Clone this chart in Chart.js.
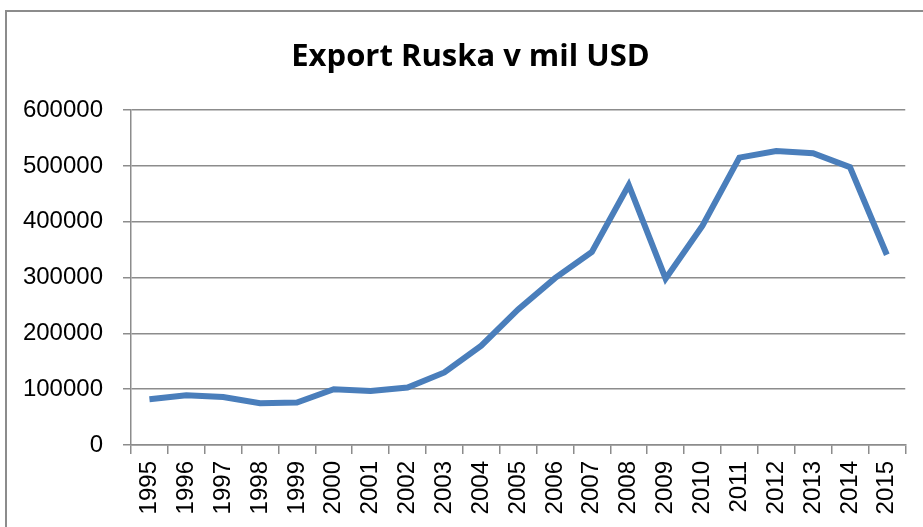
<!DOCTYPE html>
<html>
<head>
<meta charset="utf-8">
<script src="https://cdn.jsdelivr.net/npm/chart.js@4"></script>
<style>
  html, body { margin: 0; padding: 0; background: #fff; overflow: hidden; }
  #wrap { position: relative; width: 923px; height: 527px; }
  #frame { position: absolute; left: 5px; top: 10px; width: 940px; height: 540px; border: 2px solid #8c8c8c; box-sizing: border-box; }
  canvas { position: absolute; left: 0; top: 0; }
</style>
</head>
<body>
<div id="wrap">
  <div id="frame"></div>
  <canvas id="chart" width="923" height="527"></canvas>
</div>
<script>
// Export of Russia, million USD
const years = ['1995', '1996', '1997', '1998', '1999', '2000', '2001', '2002', '2003', '2004', '2005',
  '2006', '2007', '2008', '2009', '2010', '2011', '2012', '2013', '2014', '2015'];
const exportValues = [82000, 89000, 86000, 75000, 76000, 100000, 97000, 103000, 130000, 178000, 243000,
  299000, 346000, 466000, 298000, 393000, 515000, 527000, 523000, 498000, 341000];
const yTicks = [0, 100000, 200000, 300000, 400000, 500000, 600000];

const axisGrey = '#8c8c8c';

// the original title sits a bit right of the canvas centre
const titleShift = {
  id: 'titleShift',
  afterLayout(chart) {
    if (chart.titleBlock) chart.titleBlock.left = 34;
  }
};

new Chart(document.getElementById('chart').getContext('2d'), {
  type: 'line',
  data: {
    labels: years,
    datasets: [{
      label: 'Export',
      data: exportValues,
      borderColor: '#4a7ebb',
      borderWidth: 6,
      pointRadius: 0,
      tension: 0,
      fill: false
    }]
  },
  options: {
    responsive: false,
    animation: false,
    layout: { padding: { left: 0, right: 16, top: 0, bottom: 0 } },
    plugins: {
      legend: { display: false },
      tooltip: { enabled: false },
      title: {
        display: true,
        text: 'Export Ruska v mil USD',
        color: '#000',
        font: { family: 'Open Sans', size: 31, weight: 'bold', lineHeight: 1.2 },
        padding: { top: 39, bottom: 34 }
      }
    },
    scales: {
      x: {
        offset: true,
        grid: { display: true, drawOnChartArea: false, drawTicks: true, offset: true, tickLength: 9, color: axisGrey, lineWidth: 1.5 },
        border: { display: true, color: axisGrey, width: 1.5 },
        ticks: {
          color: '#000',
          font: { family: 'Liberation Sans', size: 24 },
          minRotation: 90,
          maxRotation: 90,
          autoSkip: false,
          padding: 7
        },
        afterFit: scale => { scale.height = 82; }
      },
      y: {
        min: 0,
        max: 600000,
        afterBuildTicks: scale => { scale.ticks = yTicks.map(v => ({ value: v })); },
        grid: { color: axisGrey, lineWidth: 1.5, tickLength: 8 },
        border: { display: true, color: axisGrey, width: 1.5 },
        ticks: {
          color: '#000',
          font: { family: 'Liberation Sans', size: 24 },
          padding: 20,
          callback: v => String(v)
        },
        afterFit: scale => { scale.width = 131; }
      }
    }
  },
  plugins: [titleShift]
});
</script>
</body>
</html>
